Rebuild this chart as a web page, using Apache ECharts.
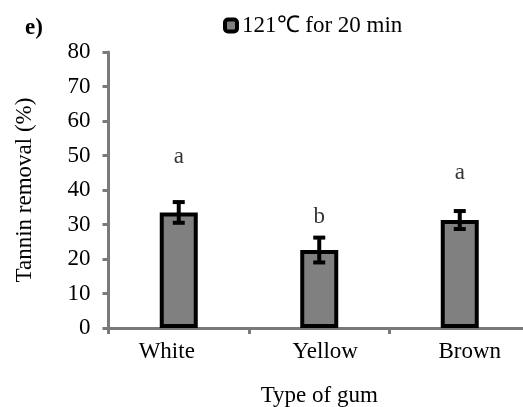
<!DOCTYPE html>
<html><head><meta charset="utf-8">
<script src="https://cdn.jsdelivr.net/npm/echarts@6/dist/echarts.min.js"></script>
<style>html,body{margin:0;padding:0;background:#fff}#c{width:523px;height:407px}</style>
</head><body><div id="c"></div>
<script>
var categories = ['White', 'Yellow', 'Brown'];
var removal = [33.5, 22.6, 31.3];
var errors = [3.0, 3.6, 2.6];
var letters = ['a', 'b', 'a'];
var letterY = [49.6, 32.2, 44.9];
var yTicks = [0, 10, 20, 30, 40, 50, 60, 70, 80];
var seriesName = '121\u2103 for 20 min';

var FONT = 'Liberation Serif';
var AXIS = '#7a7a7a';
var chart = echarts.init(document.getElementById('c'));
chart.setOption({
  animation: false,
  textStyle: {fontFamily: FONT, color: '#000'},
  title: {text: 'e)', left: 20, top: 12, textStyle: {fontFamily: FONT, fontWeight: 'bold', fontSize: 23, color: '#000'}},
  legend: {
    data: [seriesName], left: 218, top: 9, icon: 'roundRect', itemWidth: 12, itemHeight: 12, itemGap: 4,
    itemStyle: {color: '#808080', borderColor: '#000', borderWidth: 4},
    textStyle: {fontFamily: FONT, fontSize: 23, color: '#000', fontWeight: 'normal'}
  },
  grid: {left: 108.5, top: 52, width: 421.5, height: 276, containLabel: false, outerBoundsMode: 'none'},
  xAxis: {
    type: 'category', data: categories,
    name: 'Type of gum', nameLocation: 'middle', nameGap: 56,
    nameTextStyle: {fontFamily: FONT, fontSize: 23, color: '#000'},
    axisLine: {lineStyle: {color: AXIS, width: 3}},
    axisTick: {show: true, interval: 0, length: 6, lineStyle: {color: AXIS, width: 3}},
    axisLabel: {
      interval: 0, hideOverlap: false,
      fontFamily: FONT, fontSize: 23, color: '#000', margin: 12,
      formatter: function (v, i) { return '{c' + i + '|' + v + '}'; },
      rich: {
        c0: {fontFamily: FONT, fontSize: 23, padding: [0, 24, 0, 0]},
        c1: {fontFamily: FONT, fontSize: 23, padding: [0, 0, 0, 12]},
        c2: {fontFamily: FONT, fontSize: 23, padding: [0, 0, 4, 20]}
      }
    }
  },
  yAxis: {
    type: 'value', min: yTicks[0], max: yTicks[yTicks.length - 1], interval: 10,
    name: 'Tannin removal (%)', nameLocation: 'middle', nameGap: 72,
    nameTextStyle: {fontFamily: FONT, fontSize: 23, color: '#000'},
    splitLine: {show: false},
    axisLine: {show: true, lineStyle: {color: AXIS, width: 3}},
    axisTick: {show: true, length: 6, lineStyle: {color: AXIS, width: 3}},
    axisLabel: {fontFamily: FONT, fontSize: 23, color: '#000', margin: 18}
  },
  series: [
    {
      name: seriesName, type: 'bar', data: removal, barWidth: 38,
      itemStyle: {color: '#808080', borderColor: '#000', borderWidth: 4}
    },
    {
      type: 'custom', name: 'err', silent: true, z: 5,
      data: removal.map(function (v, i) { return [i, v - errors[i], v + errors[i]]; }),
      renderItem: function (params, api) {
        var x = api.coord([api.value(0), 0])[0];
        var lo = api.coord([api.value(0), api.value(1)])[1];
        var hi = api.coord([api.value(0), api.value(2)])[1];
        var hw = 6;
        var st = {stroke: '#000', lineWidth: 4};
        return {type: 'group', children: [
          {type: 'line', shape: {x1: x, y1: lo, x2: x, y2: hi}, style: st},
          {type: 'line', shape: {x1: x - hw, y1: lo, x2: x + hw, y2: lo}, style: st},
          {type: 'line', shape: {x1: x - hw, y1: hi, x2: x + hw, y2: hi}, style: st}
        ]};
      }
    },
    {
      type: 'scatter', name: 'letters', silent: true, symbolSize: 0,
      data: letterY.map(function (v, i) { return [i, v]; }),
      label: {show: true, position: 'inside', formatter: function (p) { return letters[p.dataIndex]; },
        fontFamily: FONT, fontSize: 23, color: '#000'}
    }
  ]
});
</script></body></html>
